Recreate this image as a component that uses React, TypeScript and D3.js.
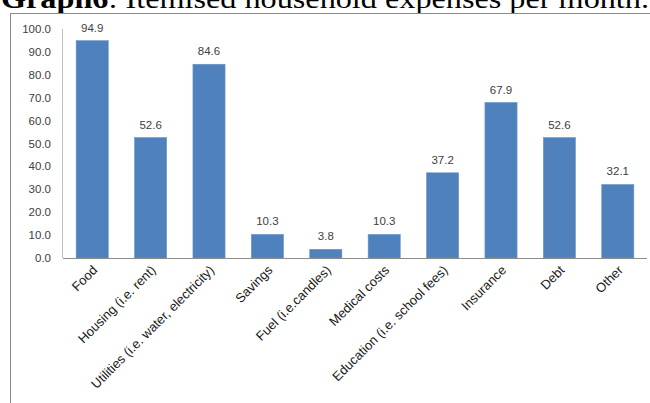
import React from "react";
import * as d3 from "d3";

const categories = [
  "Food",
  "Housing (i.e. rent)",
  "Utilities (i.e. water, electricity)",
  "Savings",
  "Fuel (i.e.candles)",
  "Medical costs",
  "Education (i.e. school fees)",
  "Insurance",
  "Debt",
  "Other",
];
const values = [94.9, 52.6, 84.6, 10.3, 3.8, 10.3, 37.2, 67.9, 52.6, 32.1];
const yTicks = [0, 10, 20, 30, 40, 50, 60, 70, 80, 90, 100];
const titleBold = "Graph6";
const titleRest = ": Itemised household expenses per month.";

const W = 650;
const H = 403;
const plot = { left: 63, right: 647, top: 29, bottom: 258 };
const labelFont = "'Liberation Sans', Arial, sans-serif";

export default function App() {
  const x = d3
    .scaleBand<string>()
    .domain(categories)
    .range([plot.left, plot.right])
    .paddingInner(0.45)
    .paddingOuter(0.225);
  const y = d3.scaleLinear().domain([0, 100]).range([plot.bottom, plot.top]);
  const fmt = d3.format(".1f");

  return (
    <svg
      width={W}
      height={H}
      style={{ position: "absolute", left: 0, top: 0, background: "#fff" }}
    >
      {/* caption above the chart frame, partly running off the top */}
      <text
        x={1}
        y={8}
        fontFamily="'Liberation Serif', 'Times New Roman', serif"
        fontSize={27}
        fill="#000"
        textLength={648}
        lengthAdjust="spacingAndGlyphs"
      >
        <tspan fontWeight="bold">{titleBold}</tspan>
        <tspan>{titleRest}</tspan>
      </text>

      {/* chart frame */}
      <rect x={10.5} y={13.5} width={W} height={H} fill="none" stroke="#8a8a8a" strokeWidth={1} />

      {/* y axis */}
      <line x1={62.5} x2={62.5} y1={y(100)} y2={y(0)} stroke="#bfbfbf" strokeWidth={1} />
      {yTicks.map((t) => (
        <text
          key={t}
          x={51}
          y={y(t)}
          dy="0.35em"
          textAnchor="end"
          fontFamily={labelFont}
          fontSize={11.5}
          fill="#404040"
        >
          {fmt(t)}
        </text>
      ))}

      {/* bars */}
      {categories.map((c, i) => (
        <rect
          key={c}
          x={x(c)}
          y={y(values[i])}
          width={x.bandwidth()}
          height={y(0) - y(values[i])}
          fill="#4f81bd"
          stroke="#6a94c8"
          strokeWidth={0.6}
        />
      ))}

      {/* value labels */}
      {categories.map((c, i) => (
        <text
          key={c}
          x={(x(c) as number) + x.bandwidth() / 2}
          y={y(values[i]) - 9}
          textAnchor="middle"
          fontFamily={labelFont}
          fontSize={11.5}
          fill="#404040"
        >
          {fmt(values[i])}
        </text>
      ))}

      {/* x axis baseline */}
      <line x1={plot.left} x2={plot.right} y1={y(0) + 0.5} y2={y(0) + 0.5} stroke="#8c8c8c" strokeWidth={1} />

      {/* category labels */}
      {categories.map((c) => {
        const cx = (x(c) as number) + x.bandwidth() / 2 + 6;
        const cy = 271;
        return (
          <text
            key={c}
            transform={`translate(${cx},${cy}) rotate(-45)`}
            textAnchor="end"
            fontFamily={labelFont}
            fontSize={13}
            fill="#1a1a1a"
          >
            {c}
          </text>
        );
      })}
    </svg>
  );
}
